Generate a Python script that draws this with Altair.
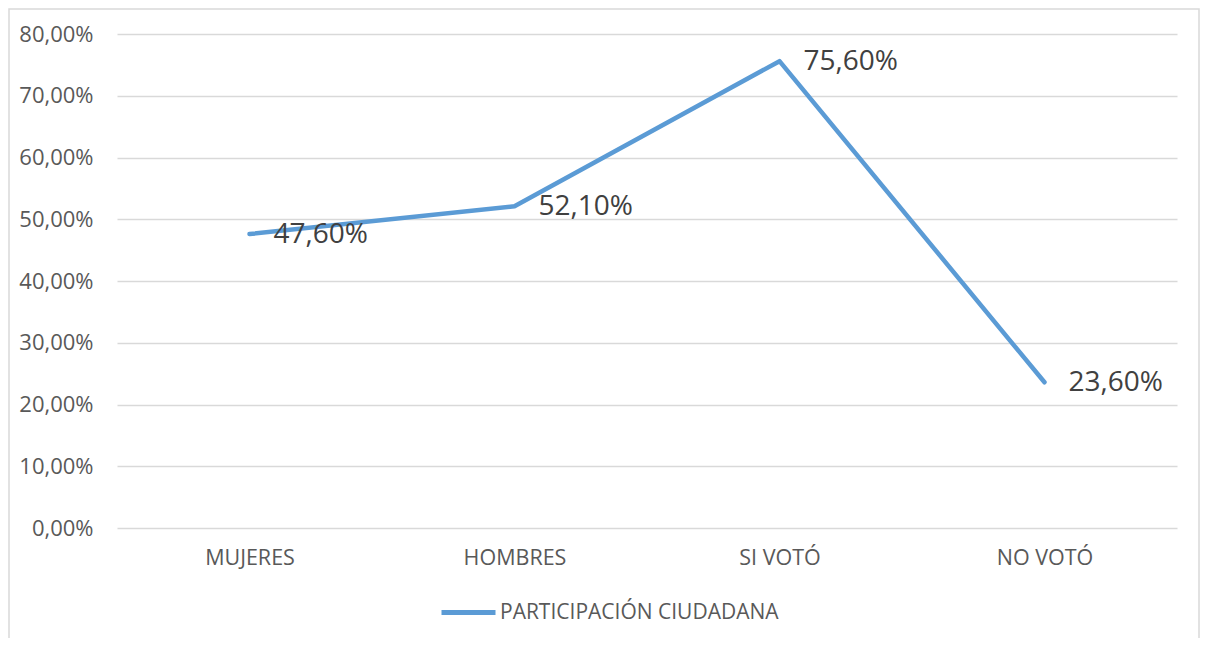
import altair as alt
import pandas as pd

categorias = ["MUJERES", "HOMBRES", "SI VOTÓ", "NO VOTÓ"]
valores = [0.476, 0.521, 0.756, 0.236]
serie = "PARTICIPACIÓN CIUDADANA"

df = pd.DataFrame({"cat": categorias, "val": valores, "serie": [serie] * 4})

FONT = "Open Sans"

base = alt.Chart(df)

x_enc = alt.X("cat:N", sort=categorias, scale=alt.Scale(type="point", padding=0.5),
              axis=alt.Axis(title=None, labelAngle=0, ticks=False, domain=False, grid=False,
                            labelFontSize=21.5, labelColor="#595959", labelFont=FONT,
                            labelPadding=19))
y_enc = alt.Y("val:Q", scale=alt.Scale(domain=[0, 0.8], nice=False),
              axis=alt.Axis(title=None, values=[i / 10 for i in range(9)], ticks=False,
                            domain=False, gridColor="#D9D9D9", gridWidth=1.5,
                            labelFontSize=22, labelColor="#595959", labelFont=FONT,
                            labelPadding=24,
                            labelExpr="replace(format(datum.value, '.2%'), '.', ',')"))

line = base.mark_line(strokeWidth=4.5, strokeCap="round", strokeJoin="round").encode(
    x=x_enc, y=y_enc,
    color=alt.Color("serie:N", scale=alt.Scale(range=["#5B9BD5"]),
                    legend=alt.Legend(title=None, orient="none", legendX=322, legendY=549,
                                      symbolType="stroke", symbolSize=2916,
                                      symbolStrokeWidth=5, labelFontSize=21,
                                      labelColor="#595959", labelFont=FONT,
                                      labelOffset=2, labelLimit=0)),
)

labels = base.transform_calculate(
    txt="replace(format(datum.val, '.2%'), '.', ',')"
).mark_text(align="left", baseline="middle", dx=24, dy=1, fontSize=28, color="#404040",
            font=FONT).encode(
    x=alt.X("cat:N", sort=categorias),
    y=alt.Y("val:Q"),
    text="txt:N",
)

border = alt.Chart(pd.DataFrame({"a": [0]})).mark_rect(
    fill=None, stroke="#D9D9D9", strokeWidth=1.5, clip=False
).encode(x=alt.value(-108), x2=alt.value(1082), y=alt.value(-25), y2=alt.value(800))

chart = alt.layer(border, line, labels).properties(
    width=1060, height=494,
    autosize=alt.AutoSizeParams(type="none"),
    padding={"left": 109, "top": 26, "right": 23, "bottom": 110},
).configure_view(stroke=None)

chart.save("out.html", embed_options={"renderer": "svg", "actions": False})
